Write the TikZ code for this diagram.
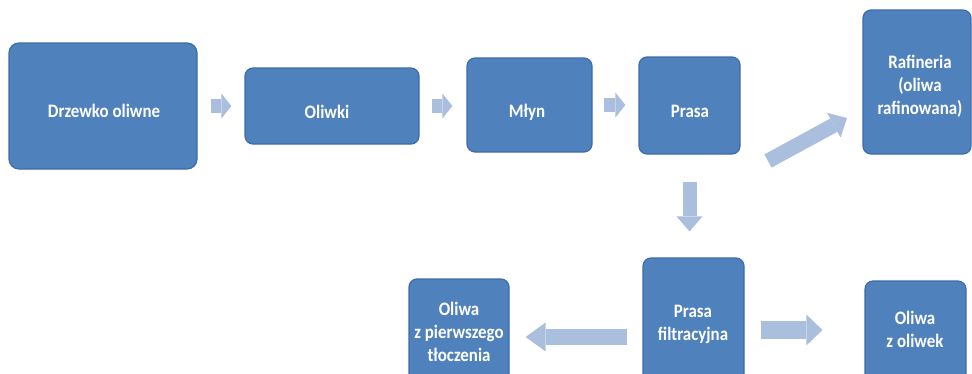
\documentclass[tikz,border=0pt]{standalone}
\usepackage{fontspec}
\setmainfont{Carlito}[FakeStretch=0.89]
\usetikzlibrary{arrows.meta}
\definecolor{boxfill}{RGB}{79,129,189}
\definecolor{boxline}{RGB}{62,108,168}
\definecolor{arrowc}{RGB}{170,190,221}
\begin{document}
\begin{tikzpicture}[x=1pt,y=-1pt,
  box/.style={draw=boxline, line width=1.2pt, fill=boxfill, rounded corners=8pt, inner sep=0pt},
  lbl/.style={text=white, font=\fontsize{19}{23}\selectfont\bfseries, align=center, inner sep=0pt},
  barrow/.style n args={3}{draw=arrowc, line width=#1, -{Triangle[width=#2,length=#3,line width=0pt]}}
]
\path[use as bounding box, clip] (0,0) rectangle (972,373);
% boxes
\node[box, rounded corners=10pt, minimum width=188pt, minimum height=126pt] (drz) at (103,106) {};
\node[box, minimum width=174pt, minimum height=76pt] (oliwki) at (332,106) {};
\node[box, minimum width=125pt, minimum height=94pt] (mlyn) at (529.5,105) {};
\node[box, minimum width=101pt, minimum height=97pt] (prasa) at (689.5,105.5) {};
\node[box, minimum width=108pt, minimum height=144pt] (raf) at (917,82) {};
\node[box, minimum width=100pt, minimum height=116pt] (pierw) at (459,337) {};
\node[box, minimum width=101pt, minimum height=137pt] (filtr) at (693.5,326.5) {};
\node[box, minimum width=101pt, minimum height=114pt] (oliwek) at (915.5,338) {};
% labels
\node[lbl] (t1) at (104,112.4) {Drzewko oliwne\strut};
\node[lbl] (t2) at (327,113.9) {Oliwki\strut};
\node[lbl] (t3) at (527,112.4) {Młyn\strut};
\node[lbl] (t4) at (690,112.4) {Prasa\strut};
\node[lbl] (t5) at (920,86.4) {Rafineria\strut\\(oliwa\strut\\rafinowana)\strut};
\node[lbl] (t6) at (459,333.9) {Oliwa\strut\\z pierwszego\strut\\tłoczenia\strut};
\node[lbl] (t7) at (693,323.9) {Prasa\strut\\filtracyjna\strut};
\node[lbl] (t8) at (915,331.4) {Oliwa\strut\\z oliwek\strut};
% arrows
\draw[barrow={14pt}{25pt}{10pt}, shorten <=13pt, shorten >=13pt] (drz.east) -- (drz.east -| oliwki.west);
\draw[barrow={14pt}{25pt}{10pt}, shorten <=12pt, shorten >=14pt] (oliwki.east) -- (oliwki.east -| mlyn.west);
\draw[barrow={14pt}{25pt}{10pt}, shorten <=11pt, shorten >=13pt] (mlyn.east) -- (mlyn.east -| prasa.west);
\draw[barrow={14pt}{26pt}{15pt}, shorten <=27pt, shorten >=26pt] (prasa.south) -- (prasa.south |- filtr.north);
\coordinate (dtail) at (768,161);
\coordinate (dtip) at (847,118);
\draw[barrow={15pt}{28pt}{15pt}] (dtail) -- (dtip);
\draw[barrow={16pt}{29pt}{20pt}, shorten <=15pt, shorten >=16pt] ([yshift=-10.5pt]filtr.west) -- (pierw.east);
\draw[barrow={18pt}{31pt}{16pt}, shorten <=16pt, shorten >=42pt] ([yshift=-3.5pt]filtr.east) -- ([yshift=8pt]oliwek.west);
\end{tikzpicture}
\end{document}
